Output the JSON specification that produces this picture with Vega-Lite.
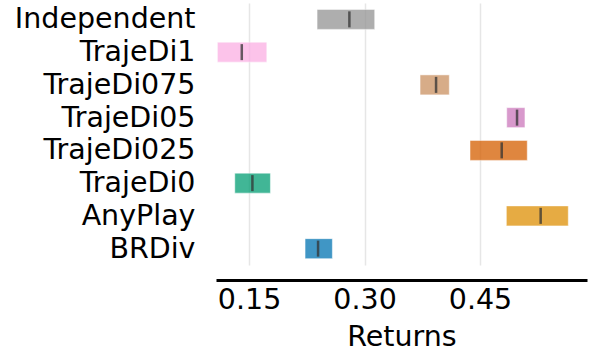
{
  "$schema": "https://vega.github.io/schema/vega-lite/v6.json",
  "autosize": {"type": "none"},
  "padding": {"left": 216, "top": 3, "right": 11, "bottom": 99},
  "width": 371,
  "height": 262,
  "background": "white",
  "config": {
    "font": "DejaVu Sans",
    "view": {"stroke": null}
  },
  "data": {
    "values": [
      {"method": "Independent", "lo": 0.2383, "hi": 0.3132, "median": 0.2803},
      {"method": "TrajeDi1", "lo": 0.1088, "hi": 0.1730, "median": 0.1405},
      {"method": "TrajeDi075", "lo": 0.3721, "hi": 0.4101, "median": 0.3929},
      {"method": "TrajeDi05", "lo": 0.4847, "hi": 0.5084, "median": 0.4981},
      {"method": "TrajeDi025", "lo": 0.4370, "hi": 0.5114, "median": 0.4782},
      {"method": "TrajeDi0", "lo": 0.1314, "hi": 0.1777, "median": 0.1543},
      {"method": "AnyPlay", "lo": 0.4842, "hi": 0.5647, "median": 0.5288},
      {"method": "BRDiv", "lo": 0.2227, "hi": 0.2582, "median": 0.2396}
    ]
  },
  "encoding": {
    "y": {
      "field": "method",
      "type": "nominal",
      "sort": ["Independent", "TrajeDi1", "TrajeDi075", "TrajeDi05", "TrajeDi025", "TrajeDi0", "AnyPlay", "BRDiv"],
      "scale": {"paddingInner": 0, "paddingOuter": 0},
      "axis": {
        "title": null,
        "domain": false,
        "ticks": false,
        "grid": false,
        "labelFontSize": 28.5,
        "labelColor": "black",
        "labelPadding": 21,
        "labelLimit": 400
      }
    }
  },
  "layer": [
    {
      "mark": {"type": "bar", "size": 20, "opacity": 0.75, "stroke": "white", "strokeWidth": 1, "strokeOpacity": 0.5},
      "encoding": {
        "x": {
          "field": "lo",
          "type": "quantitative",
          "scale": {"domain": [0.107, 0.589], "nice": false, "zero": false},
          "axis": {
            "title": "Returns",
            "values": [0.15, 0.3, 0.45],
            "format": ".2f",
            "labelFontSize": 28.5,
            "titleFontSize": 28.5,
            "titleFontWeight": "normal",
            "labelColor": "black",
            "titleColor": "black",
            "domainColor": "black",
            "domainWidth": 3,
            "ticks": false,
            "labelPadding": 5,
            "titlePadding": 9,
            "offset": 15,
            "grid": true,
            "gridColor": "#e6e6e6",
            "gridWidth": 1.5
          }
        },
        "x2": {"field": "hi"},
        "color": {
          "field": "method",
          "type": "nominal",
          "scale": {
            "domain": ["Independent", "TrajeDi1", "TrajeDi075", "TrajeDi05", "TrajeDi025", "TrajeDi0", "AnyPlay", "BRDiv"],
            "range": ["#949494", "#fbafe4", "#ca9161", "#cc78bc", "#d55e00", "#029e73", "#de8f05", "#0173b2"]
          },
          "legend": null
        }
      }
    },
    {
      "mark": {"type": "tick", "orient": "vertical", "size": 16, "thickness": 2.5, "color": "#333333", "opacity": 0.75},
      "encoding": {
        "x": {"field": "median", "type": "quantitative"}
      }
    }
  ]
}
